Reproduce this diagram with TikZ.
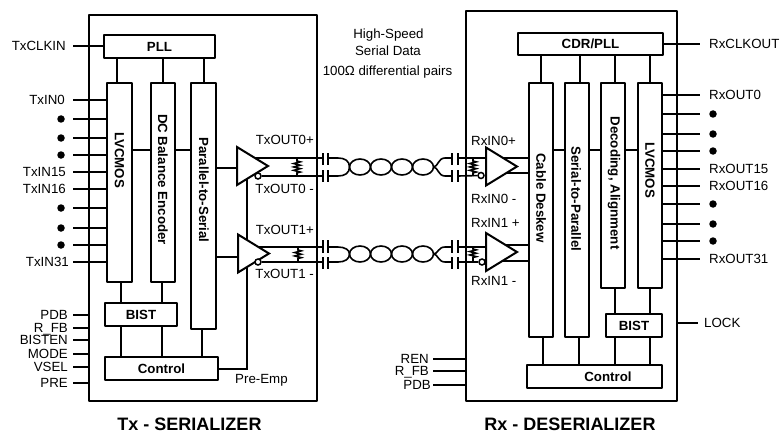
\documentclass[tikz,border=0pt]{standalone}
\usepackage{fontspec}
\setmainfont{Liberation Sans}
\usetikzlibrary{shapes.geometric,decorations.pathmorphing,backgrounds}
\tikzset{
    x={1pt},
    y={-1pt},
    wire/.style={
        draw=black,
        line width={1.6pt},
    },
    chip box/.style={
        draw=black,
        line width={2pt},
        line join=round,
        inner sep=0pt,
    },
    block/.style={
        draw=black, fill=white,
        line width={2.5pt},
        line join=round,
        inner sep=0pt,
        font={\fontsize{13.3}{13}\selectfont\bfseries},
    },
    bar label/.style={
        rotate=-90,
        inner sep=0pt,
        font={\fontsize{13.3}{13}\selectfont\bfseries},
    },
    block label/.style={
        inner sep=0pt,
        font={\fontsize{13.3}{13}\selectfont\bfseries},
    },
    pin label/.style={
        anchor=east,
        inner sep=0pt,
        text height=9.4pt, text depth=0pt,
        font={\fontsize{13.3}{13}\selectfont},
    },
    right pin label/.style={
        pin label,
        anchor=west,
    },
    pin dot/.style={
        circle, fill=black,
        inner sep=0pt,
        minimum size={7.5},
    },
    buffer/.style={
        isosceles triangle,
        isosceles triangle stretches,
        draw=black, fill=white,
        line width={2pt},
        inner sep=0pt,
        minimum width={38},
        minimum height={31},
        anchor=lower side,
    },
    bubble/.style={
        circle, draw=black, fill=white,
        line width={1.5pt},
        inner sep=0pt,
        minimum size={6},
    },
    resistor/.style={
        wire,
        decorate,
        decoration={zigzag, segment length=3.4, amplitude=3.2, pre length=3, post length=3},
    },
    chip title/.style={
        inner sep=0pt,
        font={\fontsize{18}{18}\selectfont\bfseries},
    },
    link label/.style={
        inner sep=0pt,
        text height=9.4pt, text depth=0pt,
        font={\fontsize{13.3}{13}\selectfont},
    },
}

\begin{document}
\begin{tikzpicture}
\useasboundingbox (0,0) rectangle (781,433);
% chips
\node[chip box, minimum width={228}, minimum height={386}] (txbox) at (203,208) {};
\node[chip box, minimum width={211}, minimum height={390}] (rxbox) at (571.5,206) {};
% tx blocks
\node[block, minimum width={111}, minimum height={23}] (txpll) at (159.5,46.5) {PLL};
\node[block, minimum width={25}, minimum height={199}] (txlvcmos) at (119.5,182.5) {};
\node[block, minimum width={24}, minimum height={199}] (txdc) at (163,182.5) {};
\node[block, minimum width={25}, minimum height={246}] (txp2s) at (203.5,206) {};
\node[block, minimum width={72}, minimum height={23}] (txbist) at (141,314.5) {BIST};
\node[block, minimum width={113}, minimum height={23}] (txcontrol) at (161.5,368.5) {Control};
\node[bar label] (txlvcmoslabel) at (119.5,160) {LVCMOS};
\node[bar label] (txdclabel) at (163,179.5) {DC Balance Encoder};
\node[bar label] (txp2slabel) at (204,190) {Parallel-to-Serial};
% rx blocks
\node[block, minimum width={145}, minimum height={22}] (rxcdr) at (590.5,44) {CDR/PLL};
\node[block, minimum width={24}, minimum height={254}] (rxdeskew) at (541,210) {};
\node[block, minimum width={24}, minimum height={254}] (rxs2p) at (577,210) {};
\node[block, minimum width={24}, minimum height={205}] (rxdecode) at (613,185.5) {};
\node[block, minimum width={24}, minimum height={205}] (rxlvcmos) at (650,185.5) {};
\node[block, minimum width={56}, minimum height={23}] (rxbist) at (634,325.5) {BIST};
\node[block, minimum width={135}, minimum height={23}] (rxcontrol) at (594.5,376.5) {};
\node[block label] (rxcontrollabel) at (608,377) {Control};
\node[bar label] (rxdeskewlabel) at (541,198) {Cable Deskew};
\node[bar label] (rxs2plabel) at (576,199) {Serial-to-Parallel};
\node[bar label] (rxdecodelabel) at (614,183) {Decoding, Alignment};
\node[bar label] (rxlvcmoslabel) at (650,170) {LVCMOS};
% tx links between blocks
\draw[wire] (txpll.south -| 117,0) -- (txlvcmos.north -| 117,0);
\draw[wire] (txpll.south -| txdc.north) -- (txdc.north);
\draw[wire] (txpll.south -| 204,0) -- (txp2s.north -| 204,0);
\draw[wire] (txlvcmos.east |- 0,150) -- (txdc.west |- 0,150);
\draw[wire] (txdc.east |- 0,150) -- (txp2s.west |- 0,150);
\foreach \linkx in {121,162} {
    \draw[wire] (txlvcmos.south -| \linkx,0) -- (txbist.north -| \linkx,0);
    \draw[wire] (txbist.south -| \linkx,0) -- (txcontrol.north -| \linkx,0);
}
\draw[wire] (txp2s.south -| 202,0) -- (txcontrol.north -| 202,0);
% rx links between blocks
\draw[wire] (rxcdr.south -| rxdeskew.north) -- (rxdeskew.north);
\draw[wire] (rxcdr.south -| 580,0) -- (rxs2p.north -| 580,0);
\draw[wire] (rxcdr.south -| 615,0) -- (rxdecode.north -| 615,0);
\draw[wire] (rxcdr.south -| rxlvcmos.north) -- (rxlvcmos.north);
\draw[wire] (rxdeskew.east |- 0,150) -- (rxs2p.west |- 0,150);
\draw[wire] (rxs2p.east |- 0,150) -- (rxdecode.west |- 0,150);
\draw[wire] (rxdecode.east |- 0,150) -- (rxlvcmos.west |- 0,150);
\draw[wire] (rxdecode.south -| 615,0) -- (rxbist.north -| 615,0);
\draw[wire] (rxlvcmos.south) -- (rxbist.north -| rxlvcmos.south);
\draw[wire] (rxbist.south -| 615,0) -- (rxcontrol.north -| 615,0);
\draw[wire] (rxbist.south -| 650,0) -- (rxcontrol.north -| 650,0);
\draw[wire] (rxdeskew.south -| 543,0) -- (rxcontrol.north -| 543,0);
\draw[wire] (rxs2p.south -| 579,0) -- (rxcontrol.north -| 579,0);
% tx pins
\node[pin label] (txclkin) at (66,46) {TxCLKIN};
\coordinate (txclkinend) at (73,46);
\draw[wire] (txclkinend) -- (txpll.west |- txclkinend);
\foreach \pinid/\pinname/\pinx/\piny in {in0/TxIN0/65/100, in15/TxIN15/66/172, in16/TxIN16/66/189, in31/TxIN31/69/262} {
    \node[pin label] (tx\pinid) at (\pinx,\piny) {\pinname};
    \coordinate (tx\pinid end) at (73,\piny);
    \draw[wire] (tx\pinid end) -- (txlvcmos.west |- tx\pinid end);
}
\foreach \pinid/\piny in {a/119, b/138, c/155, d/208, e/228, f/245} {
    \node[pin dot] (txdot\pinid) at (61,\piny) {};
    \coordinate (txdot\pinid end) at (73,\piny);
    \draw[wire] (txdot\pinid end) -- (txlvcmos.west |- txdot\pinid end);
}
\foreach \pinid/\pinname/\piny in {pdb/PDB/315, rfb/R\_FB/328, bisten/BISTEN/340, mode/MODE/354, vsel/VSEL/367, pre/PRE/383} {
    \node[pin label] (tx\pinid) at (68,\piny) {\pinname};
    \coordinate (tx\pinid end) at (73,\piny);
    \draw[wire] (tx\pinid end) -- (txbox.west |- tx\pinid end);
}
% rx pins
\node[right pin label] (rxclkout) at (709,44) {RxCLKOUT};
\coordinate (rxclkoutend) at (700,44);
\draw[wire] (rxcdr.east |- rxclkoutend) -- (rxclkoutend);
\foreach \pinid/\pinname/\piny in {out0/RxOUT0/95, out15/RxOUT15/169, out16/RxOUT16/186, out31/RxOUT31/259} {
    \node[right pin label] (rx\pinid) at (709,\piny) {\pinname};
    \coordinate (rx\pinid end) at (700,\piny);
    \draw[wire] (rxlvcmos.east |- rx\pinid end) -- (rx\pinid end);
}
\foreach \pinid/\piny in {a/114, b/134, c/151, d/204, e/224, f/241} {
    \node[pin dot] (rxdot\pinid) at (713,\piny) {};
    \coordinate (rxdot\pinid end) at (700,\piny);
    \draw[wire] (rxlvcmos.east |- rxdot\pinid end) -- (rxdot\pinid end);
}
\node[right pin label] (rxlock) at (704,323) {LOCK};
\coordinate (rxlockend) at (698,323);
\draw[wire] (rxbox.east |- rxlockend) -- (rxlockend);
\foreach \pinid/\pinname/\pinx/\piny in {ren/REN/429/359, rfb/R\_FB/429/371, pdb/PDB/431/385} {
    \node[pin label] (rx\pinid) at (\pinx,\piny) {\pinname};
    \coordinate (rx\pinid end) at (433,\piny);
    \draw[wire] (rx\pinid end) -- (rxbox.west |- rx\pinid end);
}
% drivers and receivers
\node[buffer] (txbuf0) at (236,166) {};
\node[buffer] (txbuf1) at (237,253.5) {};
\node[buffer] (rxbuf0) at (485,166.5) {};
\node[buffer] (rxbuf1) at (485,252) {};
\node[bubble] (txbub0) at (258,176) {};
\node[bubble] (txbub1) at (258,262) {};
\node[bubble] (rxbub0) at (481,175.5) {};
\node[bubble] (rxbub1) at (482,262) {};
\begin{scope}[on background layer]
\draw[wire] (txp2s.east |- 0,168) -- (txbuf0.lower side |- 0,168);
\draw[wire] (txp2s.east |- 0,257) -- (txbuf1.lower side |- 0,257);
\draw[wire] (txcontrol.east |- 0,369) -| (247,175);
\draw[wire] (rxbuf0.lower side |- 0,158) -- (rxdeskew.west |- 0,158);
\draw[wire] (rxbuf0.lower side |- 0,173) -- (rxdeskew.west |- 0,173);
\draw[wire] (rxbuf1.lower side |- 0,245) -- (rxdeskew.west |- 0,245);
\draw[wire] (rxbuf1.lower side |- 0,261) -- (rxdeskew.west |- 0,261);
% differential lines up to the coupling plates
\foreach \linkid/\yplus/\yminus in {0/158/176, 1/247/262} {
    \coordinate (txcapp\linkid) at (323,\yplus);
    \coordinate (txcapm\linkid) at (323,\yminus);
    \draw[wire] (txbuf\linkid.lower side |- txcapp\linkid) -- (txcapp\linkid);
    \draw[wire] (txbub\linkid) -- (txcapm\linkid);
    \coordinate (rxcapp\linkid) at (458,\yplus);
    \coordinate (rxcapm\linkid) at (458,\yminus);
    \draw[wire] (rxcapp\linkid) -- (rxbuf\linkid.lower side |- rxcapp\linkid);
    \draw[wire] (rxcapm\linkid) -- (rxbub\linkid);
}
\end{scope}
% termination
\draw[resistor] (297,158) -- (297,176);
\draw[resistor] (298,247) -- (298,262);
\draw[resistor] (473,158) -- (473,176);
\draw[resistor] (473,246) -- (473,262);
% coupling plates and twisted pairs
\foreach \linkid/\ymid/\yplus/\yminus/\pa/\pb/\pc/\pd in {0/167/158/176/153/165/170/182, 1/254/247/262/240/253/257/269} {
    \foreach \platex in {323,328,452,458} {
        \draw[wire] (\platex,\pa) -- (\platex,\pb);
        \draw[wire] (\platex,\pc) -- (\platex,\pd);
    }
    \foreach \eyex in {360,381,402,423}
        \draw[wire] (\eyex,\ymid) ellipse [x radius=10.5, y radius=8];
    \draw[wire] (328,\yplus) -- (338,\yplus) .. controls (345,\yplus) and (349.5,\yplus+3) .. (349.5,\ymid);
    \draw[wire] (328,\yminus) -- (338,\yminus) .. controls (345,\yminus) and (349.5,\yminus-3) .. (349.5,\ymid);
    \draw[wire] (452,\yplus) -- (445,\yplus) .. controls (438,\yplus) and (438,\ymid) .. (433.5,\ymid);
    \draw[wire] (452,\yminus) -- (445,\yminus) .. controls (438,\yminus) and (438,\ymid) .. (433.5,\ymid);
}
% line labels
\node[pin label] (txout0p) at (314,140) {TxOUT0+};
\node[pin label] (txout0m) at (314,189) {TxOUT0 -};
\node[pin label] (txout1p) at (314,230) {TxOUT1+};
\node[pin label] (txout1m) at (314,274) {TxOUT1 -};
\node[right pin label] (rxin0p) at (471,141) {RxIN0+};
\node[right pin label] (rxin0m) at (471,199) {RxIN0 -};
\node[right pin label] (rxin1p) at (471,223) {RxIN1 +};
\node[right pin label] (rxin1m) at (471,281) {RxIN1 -};
\node[right pin label] (preemp) at (235,379) {Pre-Emp};
\node[link label] (linkline0) at (388.5,34) {High-Speed};
\node[link label] (linkline1) at (388,51) {Serial Data};
\node[link label] (linkline2) at (387.5,71) {100Ω differential pairs};
% titles
\node[chip title] (txtitle) at (189.5,424) {Tx - SERIALIZER};
\node[chip title] (rxtitle) at (570,424) {Rx - DESERIALIZER};
\end{tikzpicture}
\end{document}
